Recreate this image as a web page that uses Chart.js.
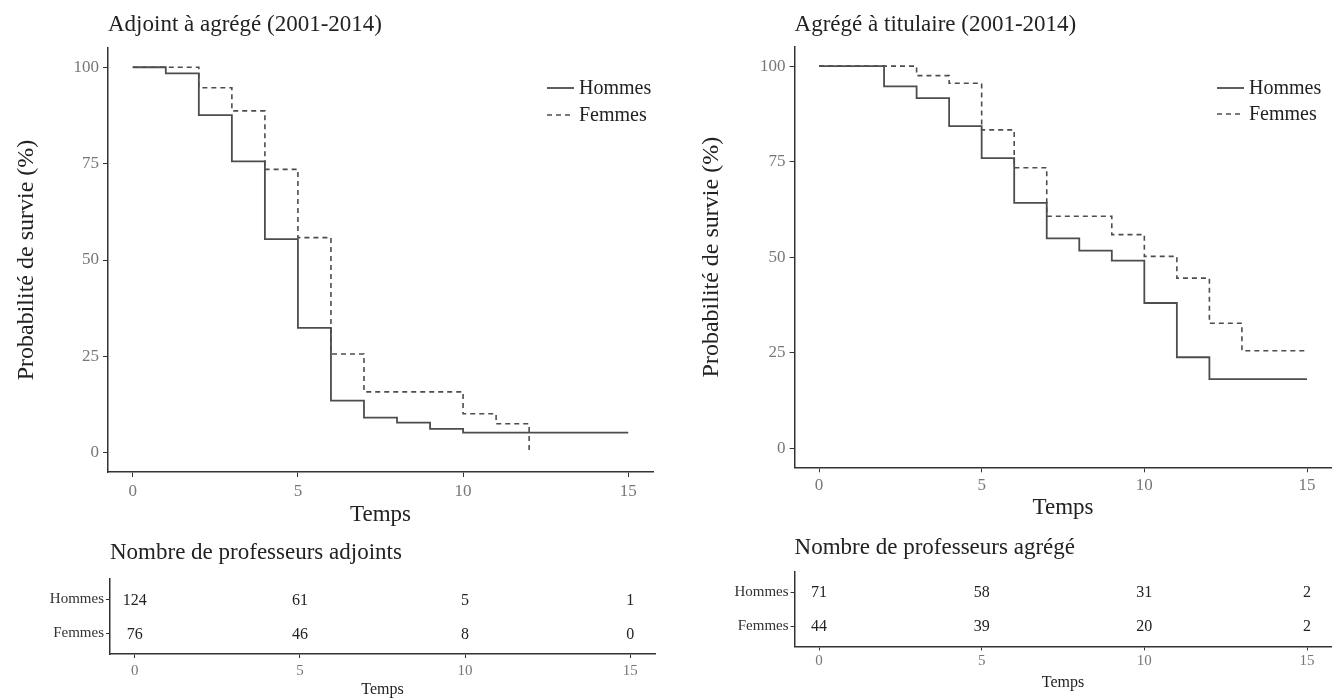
<!DOCTYPE html>
<html>
<head>
<meta charset="utf-8">
<title>Probabilité de survie</title>
<script src="https://cdn.jsdelivr.net/npm/chart.js@4.4.1/dist/chart.umd.min.js"></script>
<style>
  html, body { margin: 0; padding: 0; background: #fff; }
  body { width: 1334px; height: 700px; position: relative; overflow: hidden; }
  canvas { position: absolute; }
</style>
</head>
<body>
<canvas id="survLeft" width="667" height="530" style="left:0;top:0"></canvas>
<canvas id="survRight" width="667" height="530" style="left:667px;top:0"></canvas>
<canvas id="riskLeft" width="667" height="170" style="left:0;top:530px"></canvas>
<canvas id="riskRight" width="667" height="170" style="left:667px;top:530px"></canvas>
<script>
// Survival curves (time in years, survival in %)
const leftHommesTimes = [0, 1, 2, 3, 4, 5, 6, 7, 8, 9, 10, 15];
const leftHommesSurv = [100, 98.4, 87.6, 75.6, 55.4, 32.4, 13.5, 9.1, 7.8, 6.2, 5.2, 5.2];
const leftFemmesTimes = [0, 2, 3, 4, 5, 6, 7, 10, 11, 12];
const leftFemmesSurv = [100, 94.7, 88.7, 73.5, 55.8, 25.6, 15.8, 10.1, 7.5, 0];

const rightHommesTimes = [0, 2, 3, 4, 5, 6, 7, 8, 9, 10, 11, 12, 15];
const rightHommesSurv = [100, 94.7, 91.6, 84.3, 75.9, 64.2, 54.9, 51.7, 49.1, 38.0, 23.8, 18.1, 18.1];
const rightFemmesTimes = [0, 3, 4, 5, 6, 7, 9, 10, 11, 12, 13, 15];
const rightFemmesSurv = [100, 97.5, 95.5, 83.3, 73.4, 60.7, 55.9, 50.2, 44.5, 32.7, 25.5, 25.5];

// Number at risk tables
const groups = ['Hommes', 'Femmes'];
const riskTimes = [0, 5, 10, 15];
const leftRiskHommes = [124, 61, 5, 1];
const leftRiskFemmes = [76, 46, 8, 0];
const rightRiskHommes = [71, 58, 31, 2];
const rightRiskFemmes = [44, 39, 20, 2];

// Tick labels
const xTicks = [0, 5, 10, 15];
const yTicks = [0, 25, 50, 75, 100];

const SERIF = "'Liberation Serif', 'Times New Roman', 'DejaVu Serif', serif";
const LINE = '#4d4d4d';

Chart.defaults.font.family = SERIF;
Chart.defaults.animation = false;

function toPoints(times, values) {
  return times.map((t, i) => ({ x: t, y: values[i] }));
}

// Legend drawn inside the plot area: a short line sample followed by the label
const lineLegend = {
  id: 'lineLegend',
  afterDraw(chart, args, opts) {
    if (!opts || opts.x === undefined) return;
    const ctx = chart.ctx;
    chart.data.datasets.forEach((ds, i) => {
      const y = opts.y + i * opts.gap;
      ctx.save();
      ctx.strokeStyle = ds.borderColor;
      ctx.lineWidth = ds.borderWidth;
      ctx.setLineDash(ds.borderDash || []);
      ctx.beginPath();
      ctx.moveTo(opts.x, y);
      ctx.lineTo(opts.x + opts.len, y);
      ctx.stroke();
      ctx.setLineDash([]);
      ctx.fillStyle = '#222';
      ctx.font = '20px ' + SERIF;
      ctx.textBaseline = 'middle';
      ctx.fillText(ds.label, opts.x + opts.len + 5, y + 1);
      ctx.restore();
    });
  }
};

// Counts written at each (time, group) position of the risk table
const riskLabels = {
  id: 'riskLabels',
  afterDatasetsDraw(chart) {
    const ctx = chart.ctx;
    ctx.save();
    ctx.fillStyle = '#222';
    ctx.font = '16px ' + SERIF;
    ctx.textAlign = 'center';
    ctx.textBaseline = 'middle';
    chart.data.datasets.forEach((ds, i) => {
      chart.getDatasetMeta(i).data.forEach((pt, j) => {
        ctx.fillText(String(ds.data[j].n), pt.x, pt.y + 1);
      });
    });
    ctx.restore();
  }
};

function xScale(o) {
  return {
    type: 'linear', min: -0.75, max: 15.75,
    afterBuildTicks: s => { s.ticks = xTicks.map(v => ({ value: v })); },
    afterFit: s => { s.height = o.height; },
    grid: { drawOnChartArea: false, drawTicks: true, tickLength: o.tick, color: '#333' },
    border: { display: true, color: '#333', width: 1.5 },
    ticks: { color: '#777', font: { size: o.tickSize }, padding: o.pad, maxRotation: 0 },
    title: { display: true, text: 'Temps', color: '#222', font: { size: o.titleSize }, padding: { top: 0, bottom: o.titlePad } }
  };
}

function survChart(id, title, hT, hS, fT, fS, o) {
  return new Chart(document.getElementById(id), {
    type: 'line',
    data: {
      datasets: [
        { label: 'Hommes', data: toPoints(hT, hS), stepped: true, borderColor: LINE, borderWidth: 1.8, pointRadius: 0, fill: false },
        { label: 'Femmes', data: toPoints(fT, fS), stepped: true, borderColor: LINE, borderWidth: 1.6, borderDash: [5, 4], pointRadius: 0, fill: false }
      ]
    },
    options: {
      responsive: false,
      layout: { padding: { left: 0, right: o.right, top: 0, bottom: 0 } },
      scales: {
        x: xScale(o.x),
        y: {
          type: 'linear', min: -5, max: 105,
          afterBuildTicks: s => { s.ticks = yTicks.map(v => ({ value: v })); },
          afterFit: s => { s.width = o.yWidth; },
          grid: { drawOnChartArea: false, drawTicks: true, tickLength: 5, color: '#333' },
          border: { display: true, color: '#333', width: 1.5 },
          ticks: { color: '#777', font: { size: 17 }, padding: 4 },
          title: { display: true, text: 'Probabilité de survie (%)', color: '#222', font: { size: 24 }, padding: { top: o.yTitlePad, bottom: 0 } }
        }
      },
      plugins: {
        legend: { display: false },
        tooltip: { enabled: false },
        title: { display: true, text: title, align: 'start', fullSize: false, color: '#222',
                 font: { size: 23, weight: 'normal' }, padding: { top: 11.2, bottom: o.titleBottom } },
        lineLegend: o.legend
      }
    },
    plugins: [lineLegend]
  });
}

function riskChart(id, title, hN, fN, o) {
  const rows = [hN, fN];
  return new Chart(document.getElementById(id), {
    type: 'scatter',
    data: {
      datasets: groups.map((g, gi) => ({
        label: g,
        data: riskTimes.map((t, i) => ({ x: t, y: gi + 1, n: rows[gi][i] })),
        pointRadius: 0
      }))
    },
    options: {
      responsive: false,
      layout: { padding: { left: 0, right: o.right, top: 0, bottom: 0 } },
      scales: {
        x: xScale(o.x),
        y: {
          type: 'linear', min: 0.4, max: 2.6, reverse: true,
          afterBuildTicks: s => { s.ticks = groups.map((g, i) => ({ value: i + 1 })); },
          afterFit: s => { s.width = o.yWidth; },
          grid: { drawOnChartArea: false, drawTicks: true, tickLength: 4, color: '#333' },
          border: { display: true, color: '#333', width: 1.5 },
          ticks: { color: '#333', font: { size: 15 }, padding: 2, callback: v => groups[v - 1] }
        }
      },
      plugins: {
        legend: { display: false },
        tooltip: { enabled: false },
        title: { display: true, text: title, align: 'start', fullSize: false, color: '#222',
                 font: { size: 23, weight: 'normal' }, padding: { top: o.titleTop, bottom: o.titleBottom } }
      }
    },
    plugins: [riskLabels]
  });
}

survChart('survLeft', 'Adjoint à agrégé (2001-2014)',
  leftHommesTimes, leftHommesSurv, leftFemmesTimes, leftFemmesSurv, {
    right: 14, yWidth: 108, yTitlePad: 12.6, titleBottom: 9.2,
    x: { height: 58, tick: 5, pad: 4, tickSize: 17, titleSize: 23, titlePad: 1.2 },
    legend: { x: 547, y: 88, gap: 27, len: 27 }
  });

survChart('survRight', 'Agrégé à titulaire (2001-2014)',
  rightHommesTimes, rightHommesSurv, rightFemmesTimes, rightFemmesSurv, {
    right: 2.6, yWidth: 127.6, yTitlePad: 30.6, titleBottom: 8.2,
    x: { height: 62.7, tick: 5, pad: 3, tickSize: 17, titleSize: 23, titlePad: 8.2 },
    legend: { x: 550, y: 88, gap: 26, len: 27 }
  });

riskChart('riskLeft', 'Nombre de professeurs adjoints', leftRiskHommes, leftRiskFemmes, {
  right: 12, yWidth: 110, titleTop: 9.2, titleBottom: 12.2,
  x: { height: 46, tick: 4, pad: 3.6, tickSize: 15, titleSize: 16, titlePad: 0.4 }
});

riskChart('riskRight', 'Nombre de professeurs agrégé', rightRiskHommes, rightRiskFemmes, {
  right: 2.6, yWidth: 127.6, titleTop: 4.2, titleBottom: 10.2,
  x: { height: 53.6, tick: 4, pad: 1.2, tickSize: 15, titleSize: 16, titlePad: 7.4 }
});
</script>
</body>
</html>
